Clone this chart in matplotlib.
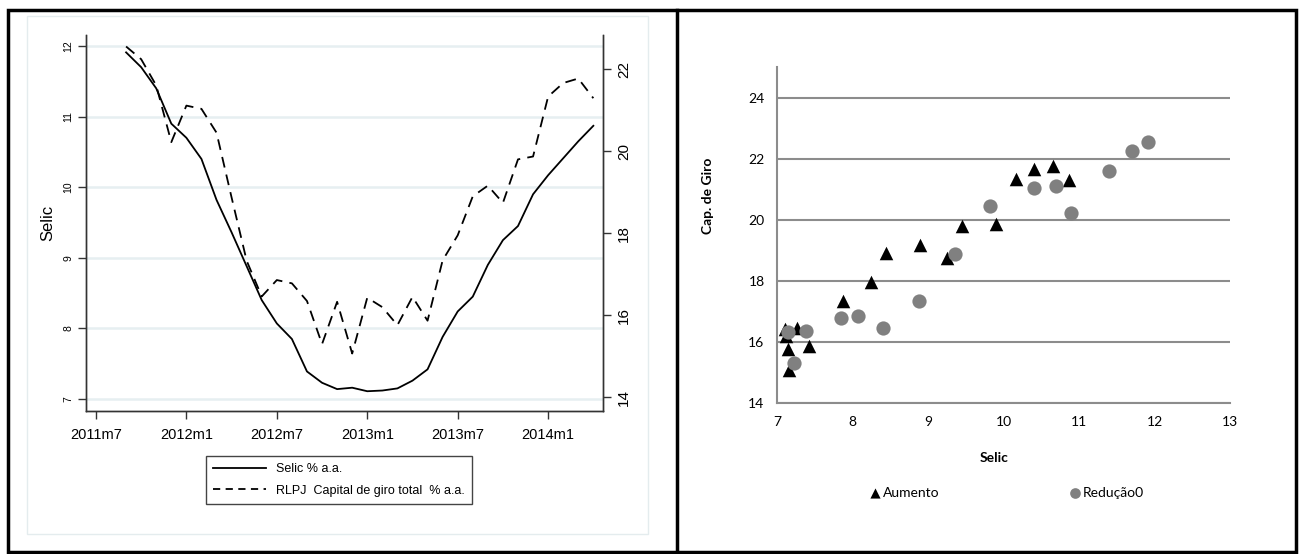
import matplotlib
matplotlib.use('Agg')
import matplotlib.pyplot as plt
from matplotlib.patches import Rectangle
from matplotlib.lines import Line2D

# ---------------- data ----------------
months = ['2011m9', '2011m10', '2011m11', '2011m12',
          '2012m1', '2012m2', '2012m3', '2012m4', '2012m5', '2012m6',
          '2012m7', '2012m8', '2012m9', '2012m10', '2012m11', '2012m12',
          '2013m1', '2013m2', '2013m3', '2013m4', '2013m5', '2013m6',
          '2013m7', '2013m8', '2013m9', '2013m10', '2013m11', '2013m12',
          '2014m1', '2014m2', '2014m3', '2014m4']
selic = [11.91, 11.70, 11.40, 10.90, 10.70, 10.40, 9.82, 9.36, 8.88, 8.40,
         8.07, 7.85, 7.39, 7.23, 7.14, 7.16, 7.11, 7.12, 7.15, 7.26, 7.42, 7.88,
         8.24, 8.45, 8.90, 9.25, 9.45, 9.90, 10.17, 10.41, 10.65, 10.87]
rlpj = [22.55, 22.24, 21.60, 20.22, 21.11, 21.03, 20.45, 18.87, 17.33, 16.46,
        16.86, 16.78, 16.35, 15.30, 16.33, 15.07, 16.43, 16.20, 15.76, 16.45,
        15.87, 17.34, 17.95, 18.90, 19.16, 18.74, 19.80, 19.87, 21.33, 21.66,
        21.77, 21.29]
regime = ['Redução0'] * 15 + ['Aumento'] * 17

x_tick_labels = ['2011m7', '2012m1', '2012m7', '2013m1', '2013m7', '2014m1']
left_yticks = [7, 8, 9, 10, 11, 12]
right_yticks = [14, 16, 18, 20, 22]
sc_xticks = [7, 8, 9, 10, 11, 12, 13]
sc_yticks = [14, 16, 18, 20, 22, 24]


def month_index(s):
    y, m = s.split('m')
    return (int(y) - 2011) * 12 + int(m) - 7


x = [month_index(s) for s in months]
xt = [month_index(s) for s in x_tick_labels]

W, H = 1301, 554
fig = plt.figure(figsize=(W / 100, H / 100), dpi=100)


def fx(px):
    return px / W


def fy(py):
    return 1 - py / H


stata_font = ['Liberation Sans', 'DejaVu Sans']
excel_font = ['Lato', 'DejaVu Sans']

# ---------------- frame ----------------
fig.patches.append(Rectangle((fx(8), fy(552)), (1296 - 8) / W, (552 - 10) / H,
                             transform=fig.transFigure, fill=False, lw=2.5,
                             ec='black', zorder=10))
fig.lines.append(Line2D([fx(677), fx(677)], [fy(10), fy(552)],
                        transform=fig.transFigure, lw=2.5, color='black'))
fig.patches.append(Rectangle((fx(27), fy(534)), (648 - 27) / W, (534 - 16) / H,
                             transform=fig.transFigure, fill=False, lw=1,
                             ec='#e4ecee'))

# ---------------- left panel ----------------
ax1 = fig.add_axes([fx(86), fy(411), (603 - 86) / W, (411 - 35) / H])
ax1.set_xlim(-0.66, 33.64)
ax1.set_ylim(6.83, 12.156)
ax1.plot(x, selic, color='black', lw=1.3, zorder=3)
ax1.set_yticks(left_yticks)
ax1.grid(axis='y', color='#e6eff1', lw=1.8)
ax1.set_axisbelow(True)
ax1.set_xticks(xt)
ax1.set_xticklabels(x_tick_labels, family=stata_font, fontsize=10.5)
ax1.tick_params(axis='x', length=6, width=1, color='#333333', pad=6)
ax1.tick_params(axis='y', length=6, width=1, color='#333333', labelrotation=90,
                labelsize=7.5, pad=3)
for lab in ax1.get_yticklabels():
    lab.set_family(stata_font)
    lab.set_va('center')
ax1.set_ylabel('Selic', family=stata_font, fontsize=12, labelpad=6)
ax1.spines['top'].set_visible(False)
for s in ['left', 'bottom', 'right']:
    ax1.spines[s].set_color('#333333')
    ax1.spines[s].set_linewidth(1)

ax2 = ax1.twinx()
ax2.set_ylim(13.67, 22.83)
ax2.plot(x, rlpj, color='black', lw=1.3, dashes=(6, 4), zorder=3)
ax2.set_yticks(right_yticks)
ax2.tick_params(axis='y', length=6, width=1, color='#333333', labelrotation=90,
                labelsize=11, pad=4)
for lab in ax2.get_yticklabels():
    lab.set_family(stata_font)
    lab.set_va('center')
ax2.spines['top'].set_visible(False)
for s in ['left', 'bottom', 'right']:
    ax2.spines[s].set_color('#333333')
    ax2.spines[s].set_linewidth(1)

leg_handles = [Line2D([], [], color='black', lw=1.3),
               Line2D([], [], color='black', lw=1.3, dashes=(4, 3))]
leg = fig.legend(leg_handles, ['Selic % a.a.', 'RLPJ  Capital de giro total  % a.a.'],
                 loc='center', bbox_to_anchor=(fx(339), fy(480)),
                 frameon=True, fancybox=False, edgecolor='#444444',
                 framealpha=1, handlelength=4.2, handletextpad=0.8,
                 borderpad=0.6, labelspacing=0.75,
                 prop={'family': stata_font, 'size': 9})
leg.get_frame().set_linewidth(1)

# ---------------- right panel ----------------
ax3 = fig.add_axes([fx(777), fy(403), (1230 - 777) / W, (403 - 67) / H])
ax3.set_xlim(7, 13)
ax3.set_ylim(14, 25)
ax3.set_xticks(sc_xticks)
ax3.set_yticks(sc_yticks)
ax3.grid(axis='y', color='#8c8c8c', lw=1.5)
ax3.set_axisbelow(True)
for s in ['top', 'right']:
    ax3.spines[s].set_visible(False)
for s in ['left', 'bottom']:
    ax3.spines[s].set_color('#8c8c8c')
    ax3.spines[s].set_linewidth(1.5)
ax3.tick_params(length=0, labelsize=10, pad=9)
for lab in ax3.get_xticklabels() + ax3.get_yticklabels():
    lab.set_family(excel_font)

au_x = [s for s, r in zip(selic, regime) if r == 'Aumento']
au_y = [v for v, r in zip(rlpj, regime) if r == 'Aumento']
re_x = [s for s, r in zip(selic, regime) if r == 'Redução0']
re_y = [v for v, r in zip(rlpj, regime) if r == 'Redução0']
h_au = ax3.scatter(au_x, au_y, marker='^', s=95, c='black', zorder=3,
                   linewidths=0, label='Aumento')
h_re = ax3.scatter(re_x, re_y, marker='o', s=105, c='#808080', zorder=4,
                   linewidths=0, label='Redução0')

fig.text(fx(708), fy(196), 'Cap. de Giro', rotation=90, ha='center', va='center',
         family=excel_font, fontsize=10, fontweight='bold')
fig.text(fx(994), fy(458), 'Selic', ha='center', va='center',
         family=excel_font, fontsize=10, fontweight='bold')

fig.legend([h_au, h_re], ['Aumento', 'Redução0'], loc='center',
           bbox_to_anchor=(fx(1006), fy(493)), ncol=2, frameon=False,
           columnspacing=9.3, handletextpad=0.05, handlelength=1.0,
           markerscale=0.75, prop={'family': excel_font, 'size': 10})

fig.savefig('out.png', dpi=100)
